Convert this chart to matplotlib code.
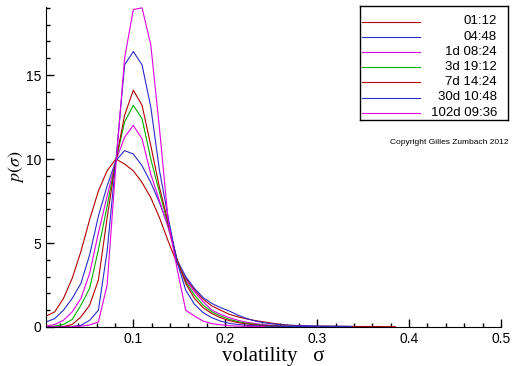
import matplotlib
matplotlib.use("Agg")
import matplotlib.pyplot as plt
import numpy as np
from matplotlib.ticker import MultipleLocator

plt.rcParams["mathtext.fontset"] = "stix"

# ---- data: volatility grid and densities for each horizon ----
vol = 0.005 + 0.0095 * np.arange(41)

labels = ["01:12", "04:48", "1d 08:24", "3d 19:12", "7d 14:24", "30d 10:48", "102d 09:36"]
colors = ["#b00000", "#2a2ac8", "#e000e0", "#00b000", "#b00000", "#2a2ac8", "#e000e0"]

nan = np.nan
p_0112 = [0.65, 0.9, 1.7, 2.9, 4.5, 6.4, 8.1, 9.3, 10.0, 9.7, 9.3, 8.6, 7.7, 6.5, 5.1, 3.8,
          2.9, 2.2, 1.65, 1.25, 1.0, 0.75, 0.6, 0.48, 0.38, 0.3, 0.22, 0.15, 0.1, 0.08, 0.06,
          0.05, 0.05, 0.04, 0.04, 0.03, 0.03, 0.03, 0.03, 0.02, 0.02]
p_0448 = [0.3, 0.5, 1.0, 1.7, 2.6, 4.3, 6.6, 8.4, 9.9, 10.5, 10.3, 9.6, 8.6, 7.4, 6.0, 4.0,
          3.0, 2.3, 1.75, 1.4, 1.15, 0.95, 0.7, 0.5, 0.35, 0.25, 0.18, 0.13, 0.1, 0.08, 0.07,
          0.06, 0.05, 0.05, 0.04, 0.04, nan, nan, nan, nan, nan]
p_1d = [0.05, 0.15, 0.4, 0.9, 1.7, 3.2, 5.6, 7.8, 9.9, 11.3, 12.0, 11.2, 9.1, 7.5, 5.9, 4.0,
        2.8, 2.1, 1.5, 1.0, 0.75, 0.55, 0.4, 0.28, 0.2, 0.14, 0.1, 0.07, 0.05, 0.04, 0.03,
        0.03, nan, nan, nan, nan, nan, nan, nan, nan, nan]
p_3d = [0.0, 0.05, 0.15, 0.45, 1.3, 2.3, 4.6, 7.2, 9.9, 12.2, 13.2, 12.4, 10.0, 8.0, 6.1, 4.0,
        2.7, 1.9, 1.3, 0.9, 0.65, 0.45, 0.32, 0.22, 0.15, 0.1, 0.07, 0.05, 0.04, 0.03, 0.02,
        nan, nan, nan, nan, nan, nan, nan, nan, nan, nan]
p_7d = [0.0, 0.0, 0.03, 0.15, 0.6, 1.3, 2.8, 6.5, 9.9, 12.6, 14.1, 13.2, 10.8, 8.3, 6.2, 4.0,
        2.6, 1.7, 1.15, 0.8, 0.55, 0.38, 0.26, 0.18, 0.12, 0.08, 0.06, 0.04, 0.03, 0.03, 0.02,
        nan, nan, nan, nan, nan, nan, nan, nan, nan, nan]
p_30d = [0.0, 0.0, 0.0, 0.03, 0.1, 0.4, 1.0, 4.5, 9.9, 15.6, 16.4, 15.6, 13.1, 9.3, 6.5, 3.9,
         2.2, 1.35, 0.85, 0.55, 0.35, 0.22, 0.15, 0.1, 0.07, 0.05, 0.04, 0.04, 0.03, 0.03, 0.03,
         0.02, 0.02, 0.02, 0.02, 0.02, nan, nan, nan, nan, nan]
p_102d = [0.0, 0.0, 0.0, 0.02, 0.05, 0.12, 0.3, 2.5, 9.6, 16.0, 18.9, 19.0, 16.8, 11.8, 6.3, 3.5,
          1.0, 0.65, 0.35, 0.2, 0.13, 0.08, 0.05, 0.04, 0.03, 0.02, nan, nan, nan, nan, nan,
          nan, nan, nan, nan, nan, nan, nan, nan, nan, nan]
series = [p_0112, p_0448, p_1d, p_3d, p_7d, p_30d, p_102d]

# ---- plotting ----
fig = plt.figure(figsize=(5.12, 3.66), dpi=100)
ax = fig.add_axes([46 / 512, 39 / 366, 455 / 512, 320 / 366])

for y, c in zip(series, colors):
    ax.plot(vol, y, color=c, lw=0.8)

ax.set_xlim(0.005, 0.5)
ax.set_ylim(0, 19.05)
ax.spines["top"].set_visible(False)
ax.spines["right"].set_visible(False)
ax.xaxis.set_major_locator(MultipleLocator(0.1))
ax.xaxis.set_minor_locator(MultipleLocator(0.02))
ax.yaxis.set_major_locator(MultipleLocator(5))
ax.yaxis.set_minor_locator(MultipleLocator(1))
ax.tick_params(which="both", direction="in", width=1, labelsize=10)
ax.tick_params(which="major", length=6)
ax.tick_params(which="minor", length=3)
ax.set_xticks([0.1, 0.2, 0.3, 0.4, 0.5])
ax.set_xticklabels(["0.1", "0.2", "0.3", "0.4", "0.5"], family="Liberation Sans")
for t in ax.get_yticklabels():
    t.set_family("Liberation Sans")

ax.set_xlabel("volatility   σ", family="Liberation Serif", fontsize=15, labelpad=1)
ax.set_ylabel(r"$p(\sigma)$", fontsize=13)
ax.yaxis.set_label_coords(-0.045, 0.5)

# ---- legend box (drawn in its own small axes) ----
lax = fig.add_axes([360 / 512, (366 - 120) / 366, 148 / 512, 114 / 366])
lax.set_xlim(0, 148)
lax.set_ylim(114, 0)
lax.set_xticks([])
lax.set_yticks([])
for s in lax.spines.values():
    s.set_linewidth(1)
for i, (lab, c) in enumerate(zip(labels, colors)):
    yy = 15.5 + 15.2 * i
    lax.plot([2, 60], [yy, yy], color=c, lw=0.8)
    lax.text(137, yy, lab, ha="right", va="center", fontsize=9.5, family="Liberation Sans")

fig.text(508 / 512, 1 - 143 / 366, "Copyright Gilles Zumbach 2012", ha="right", va="center",
         fontsize=6, family="Liberation Sans")

fig.savefig("out.png", dpi=100)
